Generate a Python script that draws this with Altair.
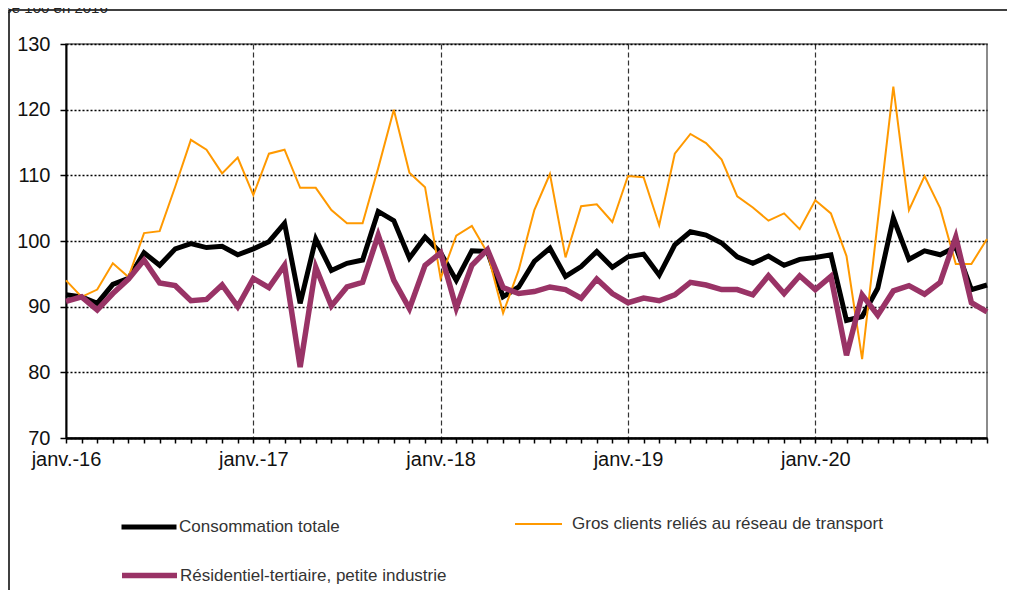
import json
import altair as alt
import pandas as pd

# ---- data -------------------------------------------------------------
years = ["16", "17", "18", "19", "20"]
month_names = ["janv.", "févr.", "mars", "avr.", "mai", "juin",
               "juil.", "août", "sept.", "oct.", "nov.", "déc."]
periods = [f"{m}-{y}" for y in years for m in month_names]

series_names = ["Consommation totale",
                "Gros clients reliés au réseau de transport",
                "Résidentiel-tertiaire, petite industrie"]

conso_totale = [91.8, 91.5, 90.5, 93.4, 94.3, 98.2, 96.3, 98.8, 99.6, 99.0, 99.2, 97.9,
                98.8, 99.9, 102.7, 90.5, 100.3, 95.5, 96.6, 97.1, 104.5, 103.1, 97.4, 100.6,
                98.2, 94.0, 98.5, 98.4, 91.5, 93.0, 96.9, 98.9, 94.6, 96.1, 98.4, 96.0,
                97.6, 98.0, 94.8, 99.4, 101.4, 100.9, 99.7, 97.6, 96.6, 97.7, 96.3, 97.2,
                97.5, 97.9, 87.9, 88.5, 92.8, 103.5, 97.2, 98.5, 97.9, 99.1, 92.6, 93.3]

gros_clients = [94.0, 91.5, 92.6, 96.6, 94.5, 101.2, 101.5, 108.3, 115.4, 113.9, 110.3, 112.7,
                107.0, 113.3, 113.9, 108.1, 108.1, 104.7, 102.7, 102.7, 111.1, 120.0, 110.4, 108.2,
                94.3, 100.8, 102.3, 98.2, 89.0, 95.6, 104.7, 110.2, 97.5, 105.3, 105.6, 102.9,
                109.9, 109.7, 102.4, 113.3, 116.3, 114.9, 112.4, 106.8, 105.1, 103.1, 104.2, 101.8,
                106.2, 104.2, 97.7, 82.0, 103.0, 123.5, 104.7, 109.9, 105.0, 96.5, 96.5, 100.3]

residentiel = [90.8, 91.5, 89.5, 92.0, 94.2, 97.1, 93.6, 93.2, 90.9, 91.1, 93.3, 90.0,
               94.3, 92.9, 96.3, 80.8, 96.0, 90.1, 93.0, 93.7, 100.9, 94.0, 89.7, 96.3,
               98.2, 89.8, 96.3, 98.7, 92.9, 92.0, 92.3, 93.0, 92.6, 91.3, 94.2, 92.0,
               90.6, 91.3, 90.9, 91.8, 93.7, 93.3, 92.6, 92.6, 91.8, 94.7, 92.0, 94.7,
               92.6, 94.6, 82.6, 91.8, 88.7, 92.4, 93.2, 91.9, 93.7, 100.6, 90.6, 89.2]

y_ticks = [70, 80, 90, 100, 110, 120, 130]
subtitle = "Base 100 en 2016"

# ---- table ------------------------------------------------------------
rows = []
for s, vals in zip(series_names, [conso_totale, gros_clients, residentiel]):
    for i, v in enumerate(vals):
        rows.append({"idx": i, "periode": periods[i], "serie": s, "valeur": v})
df = pd.DataFrame(rows)

FONT = "Liberation Sans"
colors = ["#000000", "#FF9900", "#993366"]
widths = [5, 2, 5.5]
# legend layout only: legendX, legendY, labelOffset, symbol size
legend_pos = [(53, 453, 0, 3025), (448, 455.5, 9, 2209), (53, 501, 0, 3025)]

label_expr = ("datum.value % 12 == 0 ? 'janv.-' + " + json.dumps(years)
              + "[floor(datum.value / 12)] : ''")

x_axis = alt.Axis(
    values=list(range(len(periods))), labelExpr=label_expr, title=None,
    domainColor="black", domainWidth=2.5, tickColor="black", tickWidth=1.5, tickSize=5,
    labelFontSize=20, labelFont=FONT, labelColor="#111", labelPadding=6,
    labelAngle=0, labelAlign="center", labelFlush=False, labelOverlap=False,
    grid=True, gridColor="#333", gridDash=[5, 3], gridWidth=1.2,
    gridOpacity={"condition": {"test": "datum.value % 12 == 0 && datum.value > 0", "value": 1},
                 "value": 0},
)
y_axis = alt.Axis(
    values=y_ticks, title=None, domainColor="black", domainWidth=2,
    tickColor="black", tickSize=6, tickWidth=1.5,
    labelFontSize=20, labelFont=FONT, labelPadding=10, labelColor="#111",
    grid=True, gridColor="black", gridDash=[2, 2], gridWidth=1.5,
)

x_enc = alt.X("idx:Q", scale=alt.Scale(domain=[0, len(periods) - 1], nice=False, zero=False), axis=x_axis)
y_enc = alt.Y("valeur:Q", scale=alt.Scale(domain=[70, 130], nice=False, zero=False), axis=y_axis)

lines = []
for s, c, w, (lx, ly, lo, ss) in zip(series_names, colors, widths, legend_pos):
    leg = alt.Legend(
        title=None, orient="none", legendX=lx, legendY=ly, padding=0,
        symbolType="stroke", symbolSize=ss, symbolStrokeWidth=w, symbolStrokeColor=c,
        labelFontSize=17, labelFont=FONT, labelColor="#333", labelOffset=lo, labelLimit=600,
    )
    lines.append(
        alt.Chart(df)
        .transform_filter(alt.datum.serie == s)
        .mark_line(strokeWidth=w)
        .encode(
            x=x_enc, y=y_enc,
            color=alt.Color("serie:N", scale=alt.Scale(domain=[s], range=[c]), legend=leg),
            tooltip=["periode:N", "serie:N", "valeur:Q"],
        )
    )

one = pd.DataFrame({"k": [0]})
frame_top = alt.Chart(one).mark_rule(color="black", strokeWidth=1.5).encode(
    x=alt.value(-57), x2=alt.value(960), y=alt.value(-34))
frame_left = alt.Chart(one).mark_rule(color="black", strokeWidth=1.5).encode(
    x=alt.value(-57), y=alt.value(-34), y2=alt.value(600))
title_txt = alt.Chart(one).mark_text(
    align="left", baseline="alphabetic", fontSize=15, font=FONT, color="#222"
).encode(x=alt.value(-80), y=alt.value(-31), text=alt.value(subtitle))

chart = (
    alt.layer(frame_top, frame_left, title_txt, *lines)
    .resolve_scale(color="independent")
    .resolve_legend(color="independent")
    .properties(
        width=921, height=394,
        autosize=alt.AutoSizeParams(type="none"),
        padding={"left": 58, "top": 36, "right": 20, "bottom": 152},
    )
    .configure_view(stroke="#666", strokeWidth=1.5)
)

chart.save("out.html", embed_options={"renderer": "svg", "actions": False})
